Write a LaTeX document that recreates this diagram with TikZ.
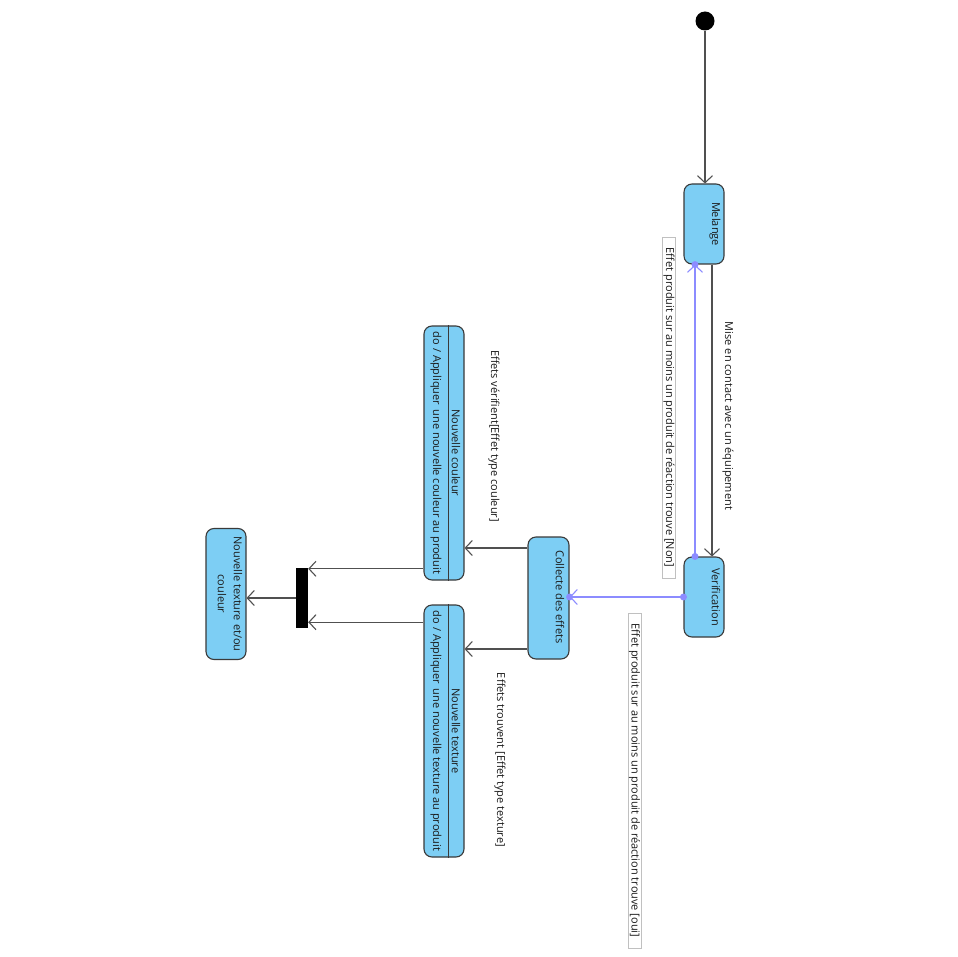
\documentclass[tikz,border=0pt]{standalone}
\usepackage{fontspec}
\setmainfont{Open Sans}
\usetikzlibrary{arrows.meta,calc}
\definecolor{statefill}{HTML}{7DCEF4}
\definecolor{stateborder}{HTML}{3A3A3A}
\definecolor{linegray}{HTML}{505050}
\definecolor{bluelink}{HTML}{8C8CFF}
\definecolor{notebox}{HTML}{C0C0C0}
\definecolor{textcol}{HTML}{1A1A1A}
\begin{document}
\begin{tikzpicture}[x=1pt,y=-1pt,
  state/.style={draw=stateborder, fill=statefill, rounded corners=8pt, line width=1.1pt, inner sep=0pt},
  rtxt/.style={rotate=-90, inner sep=1pt, text=textcol, font=\fontsize{11}{16}\selectfont},
  note/.style={rtxt, draw=notebox, line width=0.8pt, inner xsep=3pt, inner ysep=1pt, fill=white, minimum width=#1},
  arr/.style={draw=linegray, line width=1.1pt, -{Straight Barb[length=7pt,width=15pt,line width=1.1pt]}},
  barr/.style={draw=bluelink, line width=1.1pt, -{Straight Barb[length=7pt,width=15pt,line width=1.1pt]}},
  dot/.style={fill=bluelink}
]
\fill[white] (0,0) rectangle (957,957);
\useasboundingbox (0,0) rectangle (957,957);

% states
\node[circle, fill=black, minimum size=19pt, inner sep=0pt] (init) at (705,21) {};
\node[state, minimum width=40pt, minimum height=80pt] (mel) at (704,224) {};
\node[rtxt] (melt) at (715,224) {Melange};
\node[state, minimum width=40pt, minimum height=80pt] (ver) at (704,597) {};
\node[rtxt] (vert) at (716,597) {Verification};
\node[state, minimum width=41pt, minimum height=122pt] (col) at (548.5,598) {};
\node[rtxt] (colt) at (560,597) {Collecte des effets};
\node[state, minimum width=40pt, minimum height=254pt] (nc) at (444,453) {};
\draw[stateborder, line width=1.1pt] ([xshift=-16pt]nc.north east) -- ([xshift=-16pt]nc.south east);
\node[rtxt] (nct) at (456,453) {Nouvelle couleur};
\node[rtxt] (ncb) at (436,453) {do / Appliquer\, une nouvelle couleur au produit};
\node[state, minimum width=40pt, minimum height=252pt] (nt) at (444,731) {};
\draw[stateborder, line width=1.1pt] ([xshift=-16pt]nt.north east) -- ([xshift=-16pt]nt.south east);
\node[rtxt] (ntt) at (456,731) {Nouvelle texture};
\node[rtxt] (ntb) at (436,731) {do / Appliquer\, une nouvelle texture au produit};
\node[fill=black, minimum width=12pt, minimum height=60pt, inner sep=0pt] (bar) at (302,598) {};
\node[state, minimum width=40pt, minimum height=131pt] (fin) at (226,594) {};
\node[rtxt, align=center] (fint) at (230,594) {Nouvelle texture et/ou\\couleur};

% transitions
\draw[arr] (init) -- (init |- mel.north);
\draw[arr] ([xshift=8pt]mel.south) -- ([xshift=8pt]ver.north);
\node[rtxt] (lab1) at (728,416) {Mise en contact avec un équipement};

\coordinate (vtop) at ([xshift=-9pt]ver.north);
\coordinate (mbot) at ([xshift=-9pt]mel.south);
\draw[barr] (vtop) -- (mbot);
\fill[dot] (vtop) circle (3.5pt) (mbot) circle (3.5pt);
\node[note=341pt] (n1) at (669,407.5) {Effet produit sur au moins un produit de réaction trouve [Non]};

\coordinate (vleft) at (ver.west);
\coordinate (cright) at (vleft -| col.east);
\draw[barr] (vleft) -- (cright);
\fill[dot] (vleft) circle (3.5pt) (cright) circle (3.5pt);
\node[note=335pt] (n2) at (634.5,780.5) {Effet produit sur au moins un produit de réaction trouve [oui]};

\coordinate (c1) at ([yshift=50pt]col.west);
\draw[arr] (c1) -- (c1 -| nc.east);
\node[rtxt] (lab2) at (494,436) {Effets vérifient[Effet type couleur]};
\coordinate (c2) at ([yshift=-51pt]col.west);
\draw[arr] (c2) -- (c2 -| nt.east);
\node[rtxt] (lab3) at (500,760) {Effets trouvent [Effet type texture]};

\coordinate (b1) at ([yshift=-1pt]bar.north east);
\draw[arr] (b1 -| nc.west) -- (b1);
\coordinate (b2) at ([yshift=6pt]bar.south east);
\draw[arr] (b2 -| nt.west) -- (b2);
\draw[arr] (bar.west) -- (bar.west -| fin.east);
\end{tikzpicture}
\end{document}
